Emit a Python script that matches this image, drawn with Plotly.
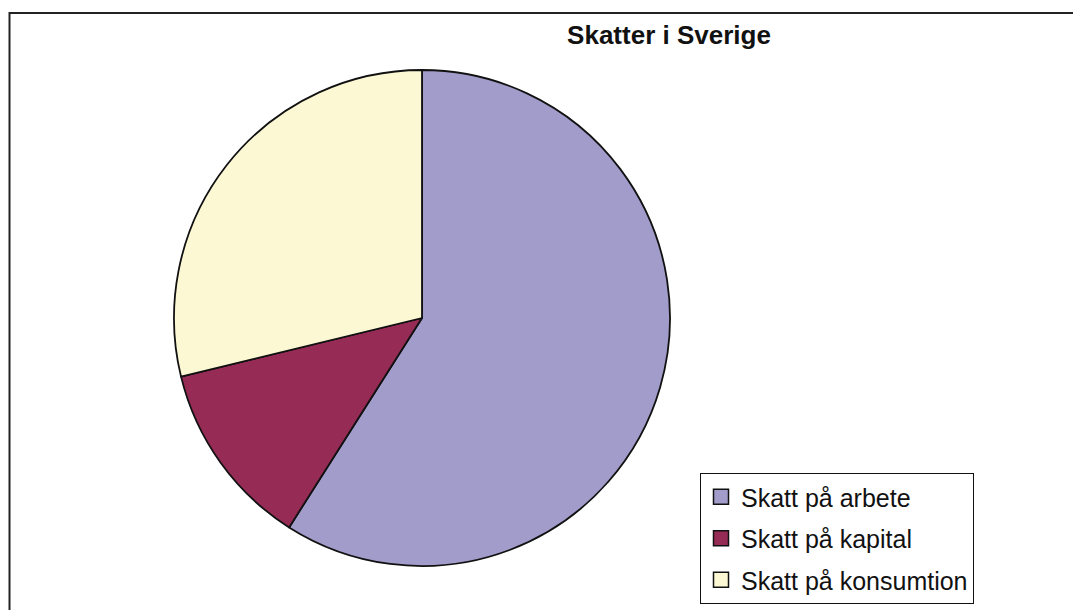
import plotly.graph_objects as go

labels = ["Skatt på arbete", "Skatt på kapital", "Skatt på konsumtion"]
values = [59.0, 12.2, 28.8]
colors = ["#A29CCB", "#962C56", "#FDF8D4"]
title_text = "Skatter i Sverige"

OFF = 8  # page body margin
W, H = 1081 - OFF, 610 - OFF


def px(x):
    return (x - OFF) / W


def py(y):
    return 1 - (y - OFF) / H


fig = go.Figure()
fig.add_trace(go.Pie(
    labels=labels, values=values, sort=False, direction="clockwise", rotation=0,
    marker=dict(colors=colors, line=dict(color="#111111", width=1.8)),
    textinfo="none", hoverinfo="label+percent", showlegend=False,
    domain=dict(x=[px(174), px(670)], y=[py(566), py(70)]),
))
for i, (lab, col) in enumerate(zip(labels, colors)):
    fig.add_trace(go.Scatter(
        x=[None], y=[None], mode="markers", name=lab, legendgroup=f"g{i}",
        marker=dict(symbol="square", size=15, color=col, line=dict(color="#111111", width=1.5)),
        showlegend=True,
    ))

fig.update_layout(
    width=W, height=H,
    margin=dict(l=0, r=0, t=0, b=0),
    paper_bgcolor="white", plot_bgcolor="white",
    xaxis=dict(visible=False), yaxis=dict(visible=False),
    title=dict(text=f"<b>{title_text}</b>", x=px(669), xanchor="center",
               y=py(35), yanchor="middle",
               font=dict(family="Liberation Sans, Arial, sans-serif", size=26, color="#111111")),
    legend=dict(x=px(700), y=py(473), xanchor="left", yanchor="top",
                bgcolor="white", bordercolor="#111111", borderwidth=1,
                tracegroupgap=6,
                font=dict(family="Liberation Sans, Arial, sans-serif", size=25, color="#111111")),
    shapes=[dict(type="rect", xref="paper", yref="paper",
                 x0=px(9.5), y0=-0.05, x1=1.05, y1=py(13),
                 line=dict(color="#222222", width=2), fillcolor="rgba(0,0,0,0)")],
    font=dict(family="Liberation Sans, Arial, sans-serif"),
)

fig.write_html("out.html")
